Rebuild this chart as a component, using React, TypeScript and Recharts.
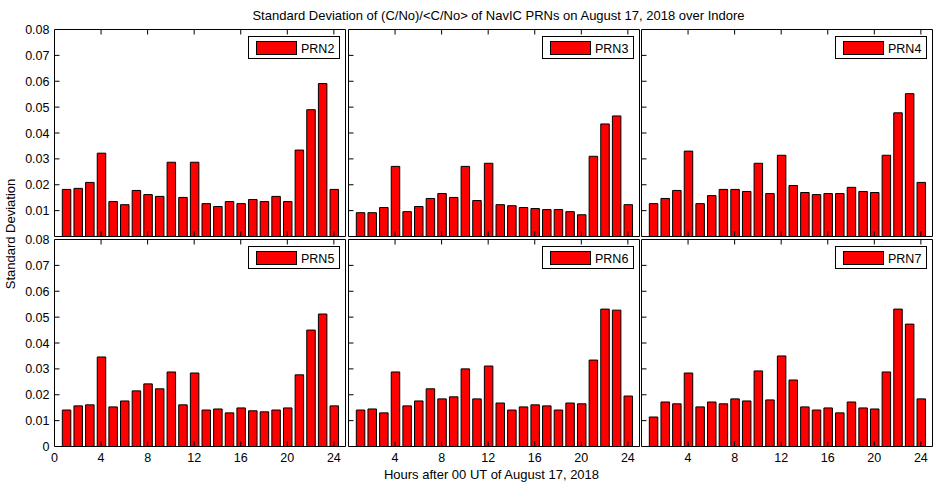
import { BarChart, Bar, XAxis, YAxis, Legend } from 'recharts';

const hours = [1, 2, 3, 4, 5, 6, 7, 8, 9, 10, 11, 12, 13, 14, 15, 16, 17, 18, 19, 20, 21, 22, 23, 24];

const prn2 = [0.0182, 0.0186, 0.0209, 0.0322, 0.0135, 0.0123, 0.0178, 0.0162, 0.0155, 0.0287, 0.0151, 0.0287,
  0.0127, 0.0116, 0.0135, 0.0127, 0.0143, 0.0135, 0.0155, 0.0135, 0.0334, 0.0490, 0.0591, 0.0182];
const prn3 = [0.0092, 0.0092, 0.0112, 0.0271, 0.0096, 0.0116, 0.0147, 0.0166, 0.0151, 0.0271, 0.0139, 0.0283,
  0.0123, 0.0119, 0.0112, 0.0108, 0.0104, 0.0104, 0.0096, 0.0084, 0.0310, 0.0435, 0.0466, 0.0123];
const prn4 = [0.0127, 0.0147, 0.0178, 0.0330, 0.0127, 0.0158, 0.0182, 0.0182, 0.0174, 0.0283, 0.0166, 0.0314,
  0.0197, 0.0170, 0.0162, 0.0166, 0.0166, 0.0190, 0.0174, 0.0170, 0.0314, 0.0478, 0.0552, 0.0209];
const prn5 = [0.0141, 0.0157, 0.0161, 0.0346, 0.0153, 0.0176, 0.0215, 0.0242, 0.0223, 0.0288, 0.0161, 0.0284,
  0.0141, 0.0145, 0.0130, 0.0149, 0.0138, 0.0134, 0.0141, 0.0149, 0.0277, 0.0450, 0.0512, 0.0157];
const prn6 = [0.0141, 0.0145, 0.0130, 0.0288, 0.0157, 0.0176, 0.0223, 0.0184, 0.0192, 0.0300, 0.0184, 0.0311,
  0.0168, 0.0141, 0.0153, 0.0161, 0.0157, 0.0141, 0.0168, 0.0165, 0.0334, 0.0531, 0.0527, 0.0195];
const prn7 = [0.0114, 0.0172, 0.0165, 0.0284, 0.0153, 0.0172, 0.0165, 0.0184, 0.0176, 0.0292, 0.0180, 0.0350,
  0.0257, 0.0153, 0.0141, 0.0149, 0.0130, 0.0172, 0.0149, 0.0145, 0.0288, 0.0531, 0.0473, 0.0184];

const xTicks = [0, 4, 8, 12, 16, 20, 24];
const yTicks = [0, 0.01, 0.02, 0.03, 0.04, 0.05, 0.06, 0.07, 0.08];

const W = 940;
const H = 488;
const FONT = '"Liberation Sans", Arial, sans-serif';
const FS = 12.5;
const TITLE_FS = 13;
// plot boxes
const PW = 291;
const PH = 207;
const colX = [54.5, 348.5, 641.5];
const rowY = [29.5, 239.5];

function BottomTick(props: any) {
  const { x, y, payload, showLabel } = props;
  const v = payload.value;
  return (
    <g>
      {v > 0 && <line x1={x} y1={y} x2={x} y2={y - 5} stroke="#000" />}
      {showLabel && (
        <text x={x} y={y + 15} textAnchor="middle" fontSize={FS} fontFamily={FONT} fill="#000">
          {v}
        </text>
      )}
    </g>
  );
}

function TopTick(props: any) {
  const { x, y } = props;
  return <line x1={x} y1={y} x2={x} y2={y + 5} stroke="#000" />;
}

function LeftTick(props: any) {
  const { x, y, payload, showLabel } = props;
  const v = payload.value;
  return (
    <g>
      {v > 0 && v < 0.08 && <line x1={x} y1={y} x2={x + 5} y2={y} stroke="#000" />}
      {showLabel && (
        <text x={x - 5} y={y + 4.5} textAnchor="end" fontSize={FS} fontFamily={FONT} fill="#000">
          {v === 0 ? '0' : v.toFixed(2)}
        </text>
      )}
    </g>
  );
}

function RightTick(props: any) {
  const { x, y } = props;
  return <line x1={x} y1={y} x2={x - 5} y2={y} stroke="#000" />;
}

function Panel({ name, values, col, row }: { name: string; values: number[]; col: number; row: number }) {
  const data = hours.map((h, i) => ({ hour: h, sd: values[i] }));
  const left = colX[col];
  const top = rowY[row];
  // axes take 1px each, so the margins are 1px smaller than the plot box offsets
  const margin = { top: top - 1, left: left - 1, right: W - left - PW - 1, bottom: H - top - PH - 1 };
  const bottomTicks = col === 0 ? xTicks : xTicks.slice(1);
  const leftTicks = row === 0 ? yTicks.slice(1) : yTicks;

  return (
    <div style={{ position: 'absolute', left: 0, top: 0 }}>
      <BarChart width={W} height={H} data={data} margin={margin}>
        <XAxis
          xAxisId="b"
          dataKey="hour"
          type="number"
          domain={[0, 25]}
          ticks={bottomTicks}
          interval={0}
          height={1}
          tickSize={0}
          tickMargin={0}
          tickLine={false}
          axisLine={{ stroke: '#000' }}
          tick={(p: any) => <BottomTick {...p} showLabel={row === 1} />}
        />
        <XAxis
          xAxisId="t"
          orientation="top"
          dataKey="hour"
          type="number"
          domain={[0, 25]}
          ticks={xTicks.slice(1)}
          interval={0}
          height={1}
          tickSize={0}
          tickMargin={0}
          tickLine={false}
          axisLine={{ stroke: '#000' }}
          tick={(p: any) => <TopTick {...p} />}
        />
        <YAxis
          yAxisId="l"
          type="number"
          domain={[0, 0.08]}
          ticks={leftTicks}
          interval={0}
          width={1}
          tickSize={0}
          tickMargin={0}
          tickLine={false}
          axisLine={{ stroke: '#000' }}
          tick={(p: any) => <LeftTick {...p} showLabel={col === 0} />}
        />
        <YAxis
          yAxisId="r"
          orientation="right"
          type="number"
          domain={[0, 0.08]}
          ticks={yTicks.slice(1, 8)}
          interval={0}
          width={1}
          tickSize={0}
          tickMargin={0}
          tickLine={false}
          axisLine={{ stroke: '#000' }}
          tick={(p: any) => <RightTick {...p} />}
        />
        <Bar
          xAxisId="b"
          yAxisId="l"
          dataKey="sd"
          name={name}
          fill="#ff0000"
          stroke="#000"
          strokeWidth={1}
          barSize={8.5}
          isAnimationActive={false}
        />
        <Legend
          layout="vertical"
          align="center"
          verticalAlign="middle"
          wrapperStyle={{ left: left + PW - 6 - 92, top: top + 6.5, width: 92, height: 23 }}
          content={() => (
            <div
              style={{
                position: 'relative',
                width: 92,
                height: 23,
                boxSizing: 'border-box',
                border: '1px solid #000',
                background: '#fff',
                fontFamily: FONT,
                fontSize: FS,
                color: '#000',
              }}
            >
              <div
                style={{
                  position: 'absolute',
                  left: 7,
                  top: 4,
                  width: 41,
                  height: 14,
                  boxSizing: 'border-box',
                  background: '#ff0000',
                  border: '1px solid #000',
                }}
              />
              <span style={{ position: 'absolute', left: 52.5, top: 4.3, lineHeight: '16px', whiteSpace: 'nowrap' }}>
                {name}
              </span>
            </div>
          )}
        />
      </BarChart>
    </div>
  );
}

export default function App() {
  return (
    <div style={{ position: 'absolute', left: 0, top: 0, width: W, height: H, background: '#fff' }}>
      <Panel name="PRN2" values={prn2} col={0} row={0} />
      <Panel name="PRN3" values={prn3} col={1} row={0} />
      <Panel name="PRN4" values={prn4} col={2} row={0} />
      <Panel name="PRN5" values={prn5} col={0} row={1} />
      <Panel name="PRN6" values={prn6} col={1} row={1} />
      <Panel name="PRN7" values={prn7} col={2} row={1} />
      <svg width={W} height={H} style={{ position: 'absolute', left: 0, top: 0, pointerEvents: 'none' }}>
        <text x={498.5} y={19.5} textAnchor="middle" fontSize={TITLE_FS} fontFamily={FONT} fill="#000">
          {'Standard Deviation of (C/No)/<C/No> of NavIC PRNs on August 17, 2018 over Indore'}
        </text>
        <text x={491.5} y={479} textAnchor="middle" fontSize={TITLE_FS} fontFamily={FONT} fill="#000">
          Hours after 00 UT of August 17, 2018
        </text>
        <text
          x={15}
          y={234}
          textAnchor="middle"
          fontSize={TITLE_FS}
          fontFamily={FONT}
          fill="#000"
          transform="rotate(-90 15 234)"
        >
          Standard Deviation
        </text>
      </svg>
    </div>
  );
}
